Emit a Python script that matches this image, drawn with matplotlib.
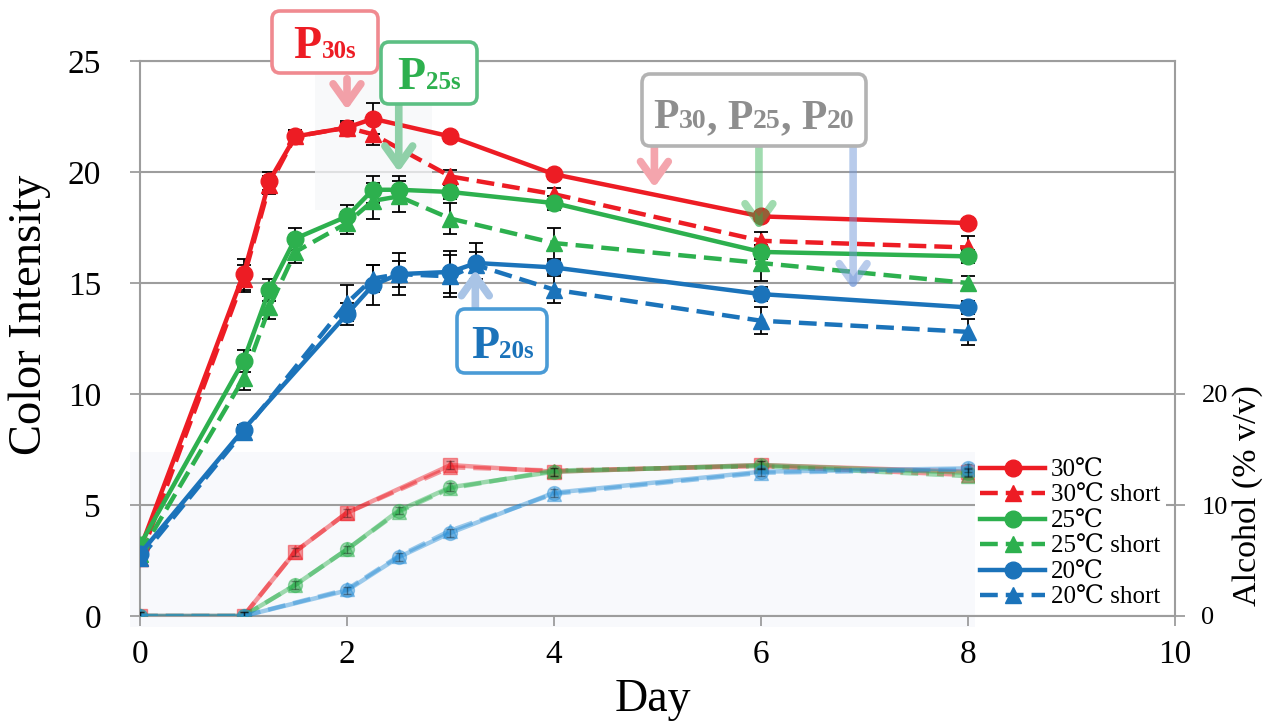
import matplotlib
matplotlib.use('Agg')
import matplotlib.pyplot as plt
from matplotlib.patches import Rectangle
from matplotlib.offsetbox import TextArea, HPacker, VPacker, DrawingArea, AnnotationBbox

plt.rcParams['font.family'] = ['Liberation Serif', 'DejaVu Serif', 'Noto Sans CJK JP']

# ---------------- data ----------------
days_30 = [0, 1, 1.25, 1.5, 2, 2.25, 3, 4, 6, 8]
ci_30 = [3.0, 15.4, 19.6, 21.6, 22.0, 22.4, 21.6, 19.9, 18.0, 17.7]
err_30 = [0.2, 0.7, 0.4, 0.3, 0.2, 0.7, 0.2, 0.2, 0.2, 0.2]
ci_30s = [2.6, 15.2, 19.4, 21.6, 22.0, 21.7, 19.8, 19.0, 16.9, 16.6]
err_30s = [0.2, 0.6, 0.4, 0.3, 0.3, 0.5, 0.3, 0.3, 0.4, 0.5]

days_25 = [0, 1, 1.25, 1.5, 2, 2.25, 2.5, 3, 4, 6, 8]
ci_25 = [3.2, 11.5, 14.7, 17.0, 18.0, 19.2, 19.2, 19.1, 18.6, 16.4, 16.2]
err_25 = [0.2, 0.5, 0.5, 0.5, 0.5, 0.6, 0.6, 0.3, 0.3, 0.3, 0.3]
ci_25s = [2.8, 10.7, 13.9, 16.4, 17.7, 18.7, 18.9, 17.9, 16.8, 15.9, 15.0]
err_25s = [0.2, 0.5, 0.5, 0.5, 0.5, 0.8, 0.7, 0.7, 0.7, 0.8, 0.3]

days_20 = [0, 1, 2, 2.25, 2.5, 3, 3.25, 4, 6, 8]
ci_20 = [2.8, 8.4, 13.6, 14.9, 15.4, 15.5, 15.9, 15.7, 14.5, 13.9]
err_20 = [0.2, 0.2, 0.5, 0.9, 0.95, 0.95, 0.9, 0.3, 0.3, 0.3]
ci_20s = [2.6, 8.3, 14.1, 15.2, 15.4, 15.3, 15.8, 14.7, 13.3, 12.8]
err_20s = [0.2, 0.2, 0.8, 0.6, 0.6, 0.95, 0.6, 0.6, 0.6, 0.6]

alc_days_30 = [0, 1, 1.5, 2, 3, 4, 6, 8]
alc_30 = [0, 0, 5.8, 9.3, 13.6, 13.0, 13.6, 13.0]
alc_30s = [0, 0, 5.8, 9.3, 13.4, 13.1, 13.5, 12.7]
alc_days_25 = [0, 1, 1.5, 2, 2.5, 3, 4, 6, 8]
alc_25 = [0, 0, 2.8, 6.0, 9.5, 11.6, 13.0, 13.6, 12.9]
alc_25s = [0, 0, 2.8, 6.0, 9.4, 11.5, 13.1, 13.5, 12.6]
alc_days_20 = [0, 1, 2, 2.5, 3, 4, 6, 8]
alc_20 = [0, 0, 2.3, 5.3, 7.5, 11.1, 13.0, 13.3]
alc_20s = [0, 0, 2.4, 5.4, 7.7, 11.0, 12.9, 13.2]

labels = ['30℃', '30℃ short', '25℃', '25℃ short', '20℃', '20℃ short']
x_ticks = [0, 2, 4, 6, 8, 10]
y_ticks = [0, 5, 10, 15, 20, 25]
alc_ticks = [0, 10, 20]

RED = '#ED1C24'
GREEN = '#2DB04E'
BLUE = '#1B73BA'
GRID = '#9d9d9d'
PX = 1 / 1.389  # pixels -> points at 100 dpi

# ---------------- figure ----------------
fig = plt.figure(figsize=(12.66, 7.22), dpi=100)
ax = fig.add_axes([140 / 1266, 106 / 722, 1035 / 1266, 555 / 722])
ax.set_xlim(0, 10)
ax.set_ylim(0, 25)
ax.set_xticks(x_ticks)
ax.set_yticks(y_ticks)
ax.set_axisbelow(True)
ax.yaxis.grid(True, color=GRID, lw=1.5)
for s in ax.spines.values():
    s.set_color(GRID)
    s.set_linewidth(1.5)
ax.tick_params(axis='both', direction='out', length=7, width=1.3, color=GRID, labelsize=24)
ax.tick_params(axis='y', pad=21)
ax.tick_params(axis='x', pad=10)

# shaded insert areas
ax.add_patch(Rectangle((-0.1, -0.5), 8.17, 7.9, facecolor='#f8f9fc', edgecolor='none',
                       zorder=0.2, clip_on=False))
ax.add_patch(Rectangle((1.69, 18.3), 1.13, 6.5, facecolor='#f6f7f9', edgecolor='none',
                       alpha=0.75, zorder=0.8))

lw = 3.2
dash = (0, (4, 1.8))
handles = []
for d, v, e, vs, es, c in [(days_30, ci_30, err_30, ci_30s, err_30s, RED),
                           (days_25, ci_25, err_25, ci_25s, err_25s, GREEN),
                           (days_20, ci_20, err_20, ci_20s, err_20s, BLUE)]:
    ax.errorbar(d, vs, yerr=es, fmt='none', ecolor='black', elinewidth=1.3, capsize=5,
                capthick=1.3, zorder=2.5)
    ax.errorbar(d, v, yerr=e, fmt='none', ecolor='black', elinewidth=1.3, capsize=5,
                capthick=1.3, zorder=2.5)
    h2, = ax.plot(d, vs, ls=dash, color=c, lw=lw, marker='^', ms=11, zorder=3)
    h1, = ax.plot(d, v, ls='-', color=c, lw=lw, marker='o', ms=12, zorder=3.2)
    handles += [h1, h2]

# alcohol on right axis
ax2 = ax.twinx()
ax2.set_ylim(0, 50)
ax2.set_yticks(alc_ticks)
for s in ax2.spines.values():
    s.set_visible(False)
ax2.tick_params(axis='y', direction='out', length=7, width=1.3, color=GRID, labelsize=19, pad=12)
for d, v, vs, c, m in [(alc_days_30, alc_30, alc_30s, RED, 's'),
                       (alc_days_25, alc_25, alc_25s, GREEN, 'o'),
                       (alc_days_20, alc_20, alc_20s, '#2a8fd6', 'o')]:
    ax2.plot(d, vs, ls=dash, color=c, lw=3.2, marker='^', ms=10, alpha=0.45, zorder=2)
    ax2.plot(d, v, ls='-', color=c, lw=3.2, marker=m, ms=10, alpha=0.45, zorder=2)
    ax2.errorbar(d, v, yerr=[0.35] * len(d), fmt='none', ecolor='black', elinewidth=1,
                 capsize=3, alpha=0.35, zorder=2.1)

leg = ax2.legend(handles, labels, loc='upper left', bbox_to_anchor=(975 / 1266, 1 - 454 / 722),
                 bbox_transform=fig.transFigure, frameon=True, facecolor='white',
                 edgecolor='none', framealpha=1, fontsize=18, handlelength=2.6,
                 handletextpad=0.25, labelspacing=0.12, borderpad=0.2, borderaxespad=0)
leg.set_zorder(20)

# axis labels
fig.text(30 / 1266, 1 - 315 / 722, 'Color Intensity', rotation=90, ha='center', va='center',
         fontsize=33.5)
fig.text(653 / 1266, 1 - 700 / 722, 'Day', ha='center', va='center', fontsize=33)
fig.text(1248 / 1266, 1 - 496 / 722, 'Alcohol (% v/v)', rotation=90, ha='center', va='center',
         fontsize=24.5)


# ---------------- annotations ----------------
def pbox(parts, xy, color, ec, side_px, top_px, bot_px):
    kids = [DrawingArea(side_px * PX, 1)]
    for t, fs in parts:
        kids.append(TextArea(t, textprops=dict(color=color, fontsize=fs, fontweight='bold',
                                               family='Liberation Serif')))
    kids.append(DrawingArea(side_px * PX, 1))
    row = HPacker(children=kids, align='baseline', pad=0, sep=0)
    col = VPacker(children=[DrawingArea(1, top_px * PX), row, DrawingArea(1, bot_px * PX)],
                  align='center', pad=0, sep=0)
    ab = AnnotationBbox(col, xy, xycoords='data', frameon=True, box_alignment=(0.5, 0.5),
                        bboxprops=dict(boxstyle='round,pad=0.2,rounding_size=0.6', ec=ec,
                                       fc='white', lw=2.6),
                        annotation_clip=False, zorder=10)
    ax.add_artist(ab)


def arrow(x, y0, y1, color):
    ax.annotate('', xy=(x, y1), xytext=(x, y0), xycoords='data', annotation_clip=False,
                arrowprops=dict(arrowstyle='->,head_length=0.7,head_width=0.5', lw=5.5,
                                color=color, mutation_scale=20, shrinkA=0, shrinkB=0),
                zorder=6)


arrow(2.0, 24.2, 22.8, '#f2a0a8')
arrow(2.5, 23.1, 20.0, '#8fd0a8')
arrow(4.97, 21.1, 19.3, '#f4a5ad')
arrow(5.98, 21.1, 17.4, (0.18, 0.69, 0.31, 0.45))
arrow(6.89, 21.1, 14.7, (0.45, 0.6, 0.85, 0.5))
arrow(3.24, 13.8, 15.6, '#a9c4e6')

pbox([('P', 33), ('30s', 18)], (1.787, 25.86), RED, '#f08a90', 19, 12, 2)
pbox([('P', 33), ('25s', 18)], (2.792, 24.45), GREEN, '#5cbf83', 14, 12, 2)
pbox([('P', 30), ('30', 20), (', P', 30), ('25', 20), (', P', 30), ('20', 20)],
     (5.932, 22.79), '#8e8e8e', '#b3b3b3', 9, 22, 6)
pbox([('P', 33), ('20s', 18)], (3.498, 12.38), BLUE, '#4a9bd6', 11, 14, 2)

fig.savefig('out.png', dpi=100)
